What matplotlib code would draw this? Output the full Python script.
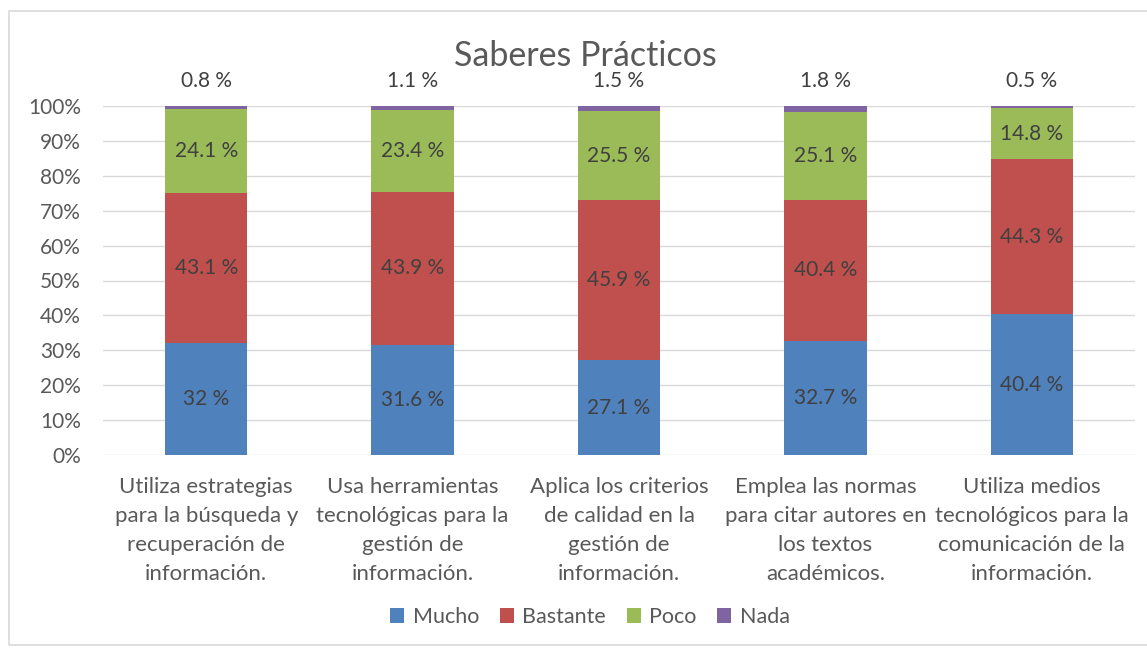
import matplotlib
matplotlib.use("Agg")
import matplotlib.pyplot as plt
from matplotlib.patches import Rectangle
import numpy as np

categories = [
    "Utiliza estrategias\npara la búsqueda y\nrecuperación de\ninformación.",
    "Usa herramientas\ntecnológicas para la\ngestión de\ninformación.",
    "Aplica los criterios\nde calidad en la\ngestión de\ninformación.",
    "Emplea las normas\npara citar autores en\nlos textos\nacadémicos.",
    "Utiliza medios\ntecnológicos para la\ncomunicación de la\ninformación.",
]
series_names = ["Mucho", "Bastante", "Poco", "Nada"]
mucho = [32, 31.6, 27.1, 32.7, 40.4]
bastante = [43.1, 43.9, 45.9, 40.4, 44.3]
poco = [24.1, 23.4, 25.5, 25.1, 14.8]
nada = [0.8, 1.1, 1.5, 1.8, 0.5]
mucho_labels = ["32 %", "31.6 %", "27.1 %", "32.7 %", "40.4 %"]
bastante_labels = ["43.1 %", "43.9 %", "45.9 %", "40.4 %", "44.3 %"]
poco_labels = ["24.1 %", "23.4 %", "25.5 %", "25.1 %", "14.8 %"]
nada_labels = ["0.8 %", "1.1 %", "1.5 %", "1.8 %", "0.5 %"]
yticks = [0, 10, 20, 30, 40, 50, 60, 70, 80, 90, 100]

colors = ["#4F81BD", "#C0504D", "#9BBB59", "#8064A2"]
FONT = "Lato"
plt.rcParams["font.family"] = [FONT, "DejaVu Sans"]

fig = plt.figure(figsize=(11.47, 6.48), dpi=100)
fig.patch.set_facecolor("white")
fig.add_artist(Rectangle((9/1147, 1 - 645/648), 1.2, 634/648, transform=fig.transFigure,
                         fill=False, edgecolor="#D9D9D9", linewidth=1.2))

ax = fig.add_axes([103/1147, 1 - 455/648, 1032/1147, 349/648])
x = np.arange(len(categories))
w = 0.4
bottom = np.zeros(len(categories))
all_vals = [mucho, bastante, poco, nada]
all_labels = [mucho_labels, bastante_labels, poco_labels, nada_labels]
for i, (vals, labs) in enumerate(zip(all_vals, all_labels)):
    vals = np.array(vals, dtype=float)
    ax.bar(x, vals, w, bottom=bottom, color=colors[i], label=series_names[i], zorder=3)
    for j in range(len(x)):
        if i < 3:
            ax.text(x[j], bottom[j] + vals[j] / 2, labs[j], ha="center", va="center",
                    fontsize=15, color="#404040", zorder=4)
        else:
            ax.text(x[j], 104.3, labs[j], ha="center", va="bottom",
                    fontsize=15, color="#404040", zorder=4)
    bottom += vals

ax.set_xlim(-0.5, 4.5)
ax.set_ylim(0, 100)
ax.set_yticks(yticks)
ax.set_yticklabels([f"{t}%" for t in yticks], fontsize=15, color="#595959")
ax.set_xticks(x)
ax.set_xticklabels(categories, fontsize=16, color="#595959", linespacing=1.55)
ax.tick_params(axis="x", length=0, pad=16)
ax.tick_params(axis="y", length=0, pad=16)
ax.grid(axis="y", color="#D9D9D9", linewidth=1, zorder=0)
for s in ax.spines.values():
    s.set_visible(False)

fig.text(585/1147, 1 - 56/648, "Saberes Prácticos", ha="center", va="center",
         fontsize=24.5, color="#595959")

handles, labels = ax.get_legend_handles_labels()
fig.legend(handles, labels, loc="center", bbox_to_anchor=(590/1147, 1 - 617/648), ncol=4,
           frameon=False, fontsize=15.5, handlelength=0.65, handleheight=0.65,
           handletextpad=0.4, columnspacing=0.95, labelcolor="#595959")

fig.savefig("out.png", dpi=100)
